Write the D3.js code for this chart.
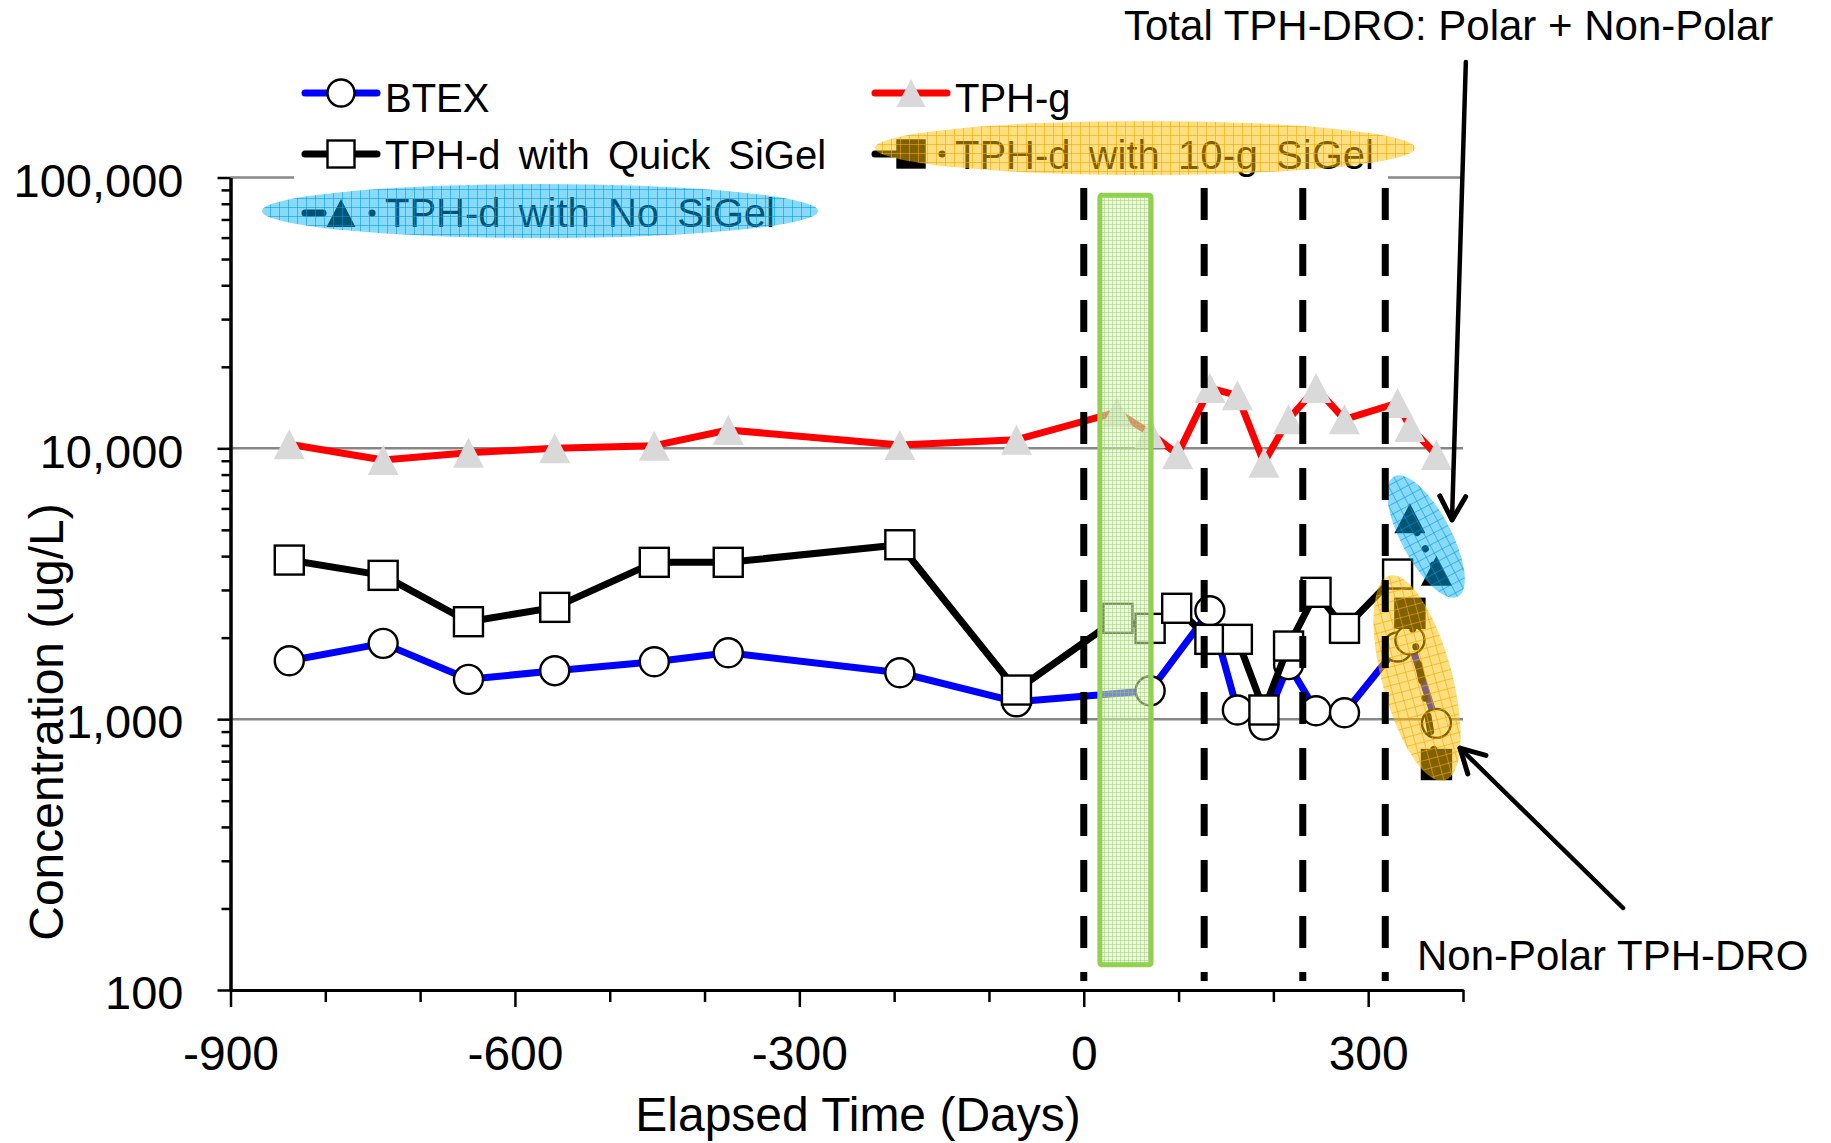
<!DOCTYPE html>
<html><head><meta charset="utf-8">
<script src="https://cdn.jsdelivr.net/npm/d3@7"></script>
<style>body{margin:0;background:#fff}</style>
</head><body>
<svg id="c" width="1831" height="1143" xmlns="http://www.w3.org/2000/svg"></svg>
<script>
// ---------------- data ----------------
const btexDays  = [-838,-739,-649,-558,-453,-375,-194,-71,70,133,162,190,216,245,275,331,344,372];
const btexVals  = [1643,1905,1403,1510,1629,1759,1484,1159,1273,2513,1081,951,1590,1074,1056,1846,1960,965];

const tphgDays  = [-838,-739,-649,-558,-453,-375,-194,-71,35,70,99,133,162,190,216,245,275,331,344,372];
const tphgVals  = [10350,9060,9640,10000,10230,11690,10280,10760,13600,11400,9500,16700,15700,8850,12800,16700,12800,14700,12000,9450];

const quickDays = [-838,-739,-649,-558,-453,-375,-194,-71,36,70,98,133,162,190,216,245,275,331];
const quickVals = [3868,3396,2290,2587,3794,3794,4406,1281,2356,2164,2567,1971,1971,1081,1862,2940,2164,3434];

const noSiDays  = [344,372];
const noSiVals  = [5515,3530];

const tenGDays  = [344,372];
const tenGVals  = [2460,680];

const xMajorTicks = [-900,-600,-300,0,300];
const yMajorTicks = [100,1000,10000,100000];
const gridValues  = [1000,10000,100000];

// annotation geometry in data units (days, ug/L)
const periodDays  = [0,127,231,318];
const periodRange = [91500,108];
const greenBand   = {d0:17, d1:71, v0:86000, v1:124};
const polarEllipse    = {d:361, v:4725};
const nonPolarEllipse = {d:351.5, v:1419};
const arrowTotal    = {from:[403,267000], to:[388.4,5438]};
const arrowNonPolar = {from:[568.8,200.8], to:[396.8,782]};

// ---------------- setup ----------------
const svg = d3.select("#c");
const x = d3.scaleLinear().domain([-900,400]).range([230.5,1463]);
const y = d3.scaleLog().domain([100,100000]).range([990,177.5]);
const font = "'Liberation Sans',Arial,sans-serif";

const defs = svg.append("defs");
function gridPattern(id, size, base, line, lw){
  const p = defs.append("pattern").attr("id",id).attr("patternUnits","userSpaceOnUse")
    .attr("width",size).attr("height",size);
  p.append("rect").attr("width",size).attr("height",size).attr("fill",base);
  p.append("path").attr("d",`M0 0.5H${size}M0.5 0V${size}`).attr("stroke",line).attr("stroke-width",lw).attr("fill","none");
}
gridPattern("pCyan", 9, "rgba(0,176,240,0.47)", "rgba(0,150,225,0.55)", 1);
gridPattern("pOrange", 9, "rgba(255,192,0,0.5)", "rgba(240,170,0,0.6)", 1);
gridPattern("pGreen", 4, "rgba(226,240,217,0.55)", "rgba(146,208,80,0.45)", 1);

// gridlines
svg.append("g").selectAll("line").data(gridValues).join("line")
  .attr("x1",x(-900)).attr("x2",x(400))
  .attr("y1",d=>y(d)).attr("y2",d=>y(d))
  .attr("stroke","#878787").attr("stroke-width",2.5);

// axes
const xMinor = d3.range(-900,401,100).filter(d=>!xMajorTicks.includes(d));
const yMinor = [];
[100,1000,10000].forEach(b=>{for(let k=2;k<=9;k++) yMinor.push(b*k);});

function styleAxis(g){
  g.select(".domain").attr("stroke","#000").attr("stroke-width",3);
  g.selectAll(".tick line").attr("stroke","#000").attr("stroke-width",2.5);
}
const gxm = svg.append("g").attr("transform",`translate(0,${y(100)})`)
  .call(d3.axisBottom(x).tickValues(xMinor).tickSize(12).tickSizeOuter(0).tickFormat(""));
styleAxis(gxm);
const gx = svg.append("g").attr("transform",`translate(0,${y(100)})`)
  .call(d3.axisBottom(x).tickValues(xMajorTicks).tickSize(17).tickSizeOuter(0).tickPadding(29).tickFormat(d=>String(d)));
styleAxis(gx);
gx.selectAll("text").attr("font-family",font).attr("font-size",48).attr("fill","#000");

const gym = svg.append("g").attr("transform",`translate(${x(-900)},0)`)
  .call(d3.axisLeft(y).tickValues(yMinor).tickSize(9).tickSizeOuter(0).tickFormat(""));
styleAxis(gym);
const gy = svg.append("g").attr("transform",`translate(${x(-900)},0)`)
  .call(d3.axisLeft(y).tickValues(yMajorTicks).tickSize(13).tickSizeOuter(0).tickPadding(34).tickFormat(d3.format(",")));
styleAxis(gy);
gy.selectAll("text").attr("font-family",font).attr("font-size",47).attr("fill","#000").attr("dy","0.4em");

// axis titles
svg.append("text").attr("x",858).attr("y",1131).attr("text-anchor","middle")
  .attr("font-family",font).attr("font-size",48).text("Elapsed Time (Days)");
svg.append("text").attr("transform","translate(63,722) rotate(-90)").attr("text-anchor","middle")
  .attr("font-family",font).attr("font-size",48).text("Concentration (ug/L)");

// ---------------- series ----------------
const zip = (a,b)=>a.map((d,i)=>[d,b[i]]);
const line = d3.line().x(d=>x(d[0])).y(d=>y(d[1]));
const triPath = (w,h)=>`M0,${-h/2}L${w/2},${h/2}L${-w/2},${h/2}Z`;
const dashDot = "16 18 0.1 18";

function drawSeries(pts, color, dash, marker){
  const g = svg.append("g");
  const p = g.append("path").datum(pts).attr("d",line).attr("fill","none")
    .attr("stroke",color).attr("stroke-width",7).attr("stroke-linejoin","round");
  if(dash) p.attr("stroke-dasharray",dash).attr("stroke-linecap","round");
  const m = g.selectAll(".m").data(pts).join("g").attr("transform",d=>`translate(${x(d[0])},${y(d[1])})`);
  marker(m);
}
const circleMk = m=>m.append("circle").attr("r",14.5).attr("fill","#fff").attr("stroke","#000").attr("stroke-width",2.4);
const squareMk = (fill)=>m=>m.append("rect").attr("x",-14.5).attr("y",-14.5).attr("width",29).attr("height",29)
  .attr("fill",fill).attr("stroke","#000").attr("stroke-width",2.4);
const triMk = (fill)=>m=>m.append("path").attr("d",triPath(31,30)).attr("fill",fill);

drawSeries(zip(btexDays,btexVals),"#0000ff",null,circleMk);
drawSeries(zip(tphgDays,tphgVals),"#ff0000",null,triMk("#d9d9d9"));
drawSeries(zip(quickDays,quickVals),"#000",null,squareMk("#fff"));
drawSeries(zip(noSiDays,noSiVals),"#000",dashDot,triMk("#000"));
drawSeries(zip(tenGDays,tenGVals),"#000",dashDot,squareMk("#000"));

// ---------------- legend ----------------
const lg = svg.append("g");
lg.append("rect").attr("x",294).attr("y",45).attr("width",1094).attr("height",140).attr("fill","#fff");
const entries = [
  {c:0,row:0,label:"BTEX",color:"#0000ff",dash:null,mk:"circle"},
  {c:1,row:0,label:"TPH-g",color:"#ff0000",dash:null,mk:"tri",fill:"#d9d9d9"},
  {c:0,row:1,label:"TPH-d with Quick SiGel",color:"#000",dash:null,mk:"square",fill:"#fff"},
  {c:1,row:1,label:"TPH-d with 10-g SiGel",color:"#000",dash:"dash",mk:"square",fill:"#000"},
  {c:0,row:2,label:"TPH-d with No SiGel",color:"#000",dash:"dash",mk:"tri",fill:"#000"}
];
const colX = [305,875], rowY=[93,154,213], textBase=[112,169,227];
entries.forEach(e=>{
  const x0 = colX[e.c], yy = rowY[e.row], cx = x0+36;
  const l = lg.append("line").attr("x1",x0).attr("x2",x0+72).attr("y1",yy).attr("y2",yy)
    .attr("stroke",e.color).attr("stroke-width",7).attr("stroke-linecap","round");
  if(e.dash) l.attr("stroke-dasharray",e.c===0?"18 49 0.1 100":"22 45 0.1 100");
  if(e.mk==="circle") lg.append("circle").attr("cx",cx).attr("cy",yy).attr("r",13.5).attr("fill","#fff").attr("stroke","#000").attr("stroke-width",2.4);
  if(e.mk==="square") lg.append("rect").attr("x",cx-13.5).attr("y",yy-13.5).attr("width",27).attr("height",27).attr("fill",e.fill).attr("stroke","#000").attr("stroke-width",2.4);
  if(e.mk==="tri") lg.append("path").attr("transform",`translate(${cx},${yy})`).attr("d",triPath(29,28)).attr("fill",e.fill);
  lg.append("text").attr("x",x0+80).attr("y",textBase[e.row]).attr("font-family",font)
    .attr("font-size",40).attr("word-spacing","7px").text(e.label);
});
// legend highlight ellipses
lg.append("ellipse").attr("cx",540).attr("cy",211).attr("rx",278).attr("ry",27).attr("fill","url(#pCyan)");
lg.append("ellipse").attr("cx",1145).attr("cy",148).attr("rx",270).attr("ry",27).attr("fill","url(#pOrange)");

// ---------------- annotations ----------------
const ann = svg.append("g");
ann.append("ellipse").attr("transform",`translate(${x(polarEllipse.d)},${y(polarEllipse.v)}) rotate(62)`)
  .attr("rx",68).attr("ry",25).attr("fill","url(#pCyan)");
ann.append("ellipse").attr("transform",`translate(${x(nonPolarEllipse.d)},${y(nonPolarEllipse.v)}) rotate(75)`)
  .attr("rx",106).attr("ry",35).attr("fill","url(#pOrange)");

ann.append("rect").attr("x",x(greenBand.d0)).attr("y",y(greenBand.v0))
  .attr("width",x(greenBand.d1)-x(greenBand.d0)).attr("height",y(greenBand.v1)-y(greenBand.v0))
  .attr("rx",2).attr("fill","url(#pGreen)").attr("stroke","#92d050").attr("stroke-width",5);

ann.selectAll(".pl").data(periodDays).join("line")
  .attr("x1",d=>x(d)).attr("x2",d=>x(d)).attr("y1",y(periodRange[0])).attr("y2",y(periodRange[1]))
  .attr("stroke","#000").attr("stroke-width",7).attr("stroke-dasharray","32 24");

function arrow(a){
  const x1=x(a.from[0]), y1=y(a.from[1]), x2=x(a.to[0]), y2=y(a.to[1]);
  ann.append("line").attr("x1",x1).attr("y1",y1).attr("x2",x2).attr("y2",y2)
    .attr("stroke","#000").attr("stroke-width",4.5).attr("stroke-linecap","round");
  const ang = Math.atan2(y1-y2,x1-x2), L=27, s=0.5;
  const pts = [[x2+L*Math.cos(ang+s),y2+L*Math.sin(ang+s)],[x2,y2],[x2+L*Math.cos(ang-s),y2+L*Math.sin(ang-s)]];
  ann.append("path").attr("d",d3.line()(pts)).attr("fill","none").attr("stroke","#000")
    .attr("stroke-width",5).attr("stroke-linecap","round").attr("stroke-linejoin","round");
}
arrow(arrowTotal);
arrow(arrowNonPolar);

ann.append("text").attr("x",1124).attr("y",40).attr("font-family",font).attr("font-size",42)
  .text("Total TPH-DRO: Polar + Non-Polar");
ann.append("text").attr("x",1417).attr("y",970).attr("font-family",font).attr("font-size",42)
  .text("Non-Polar TPH-DRO");
</script>
</body></html>
